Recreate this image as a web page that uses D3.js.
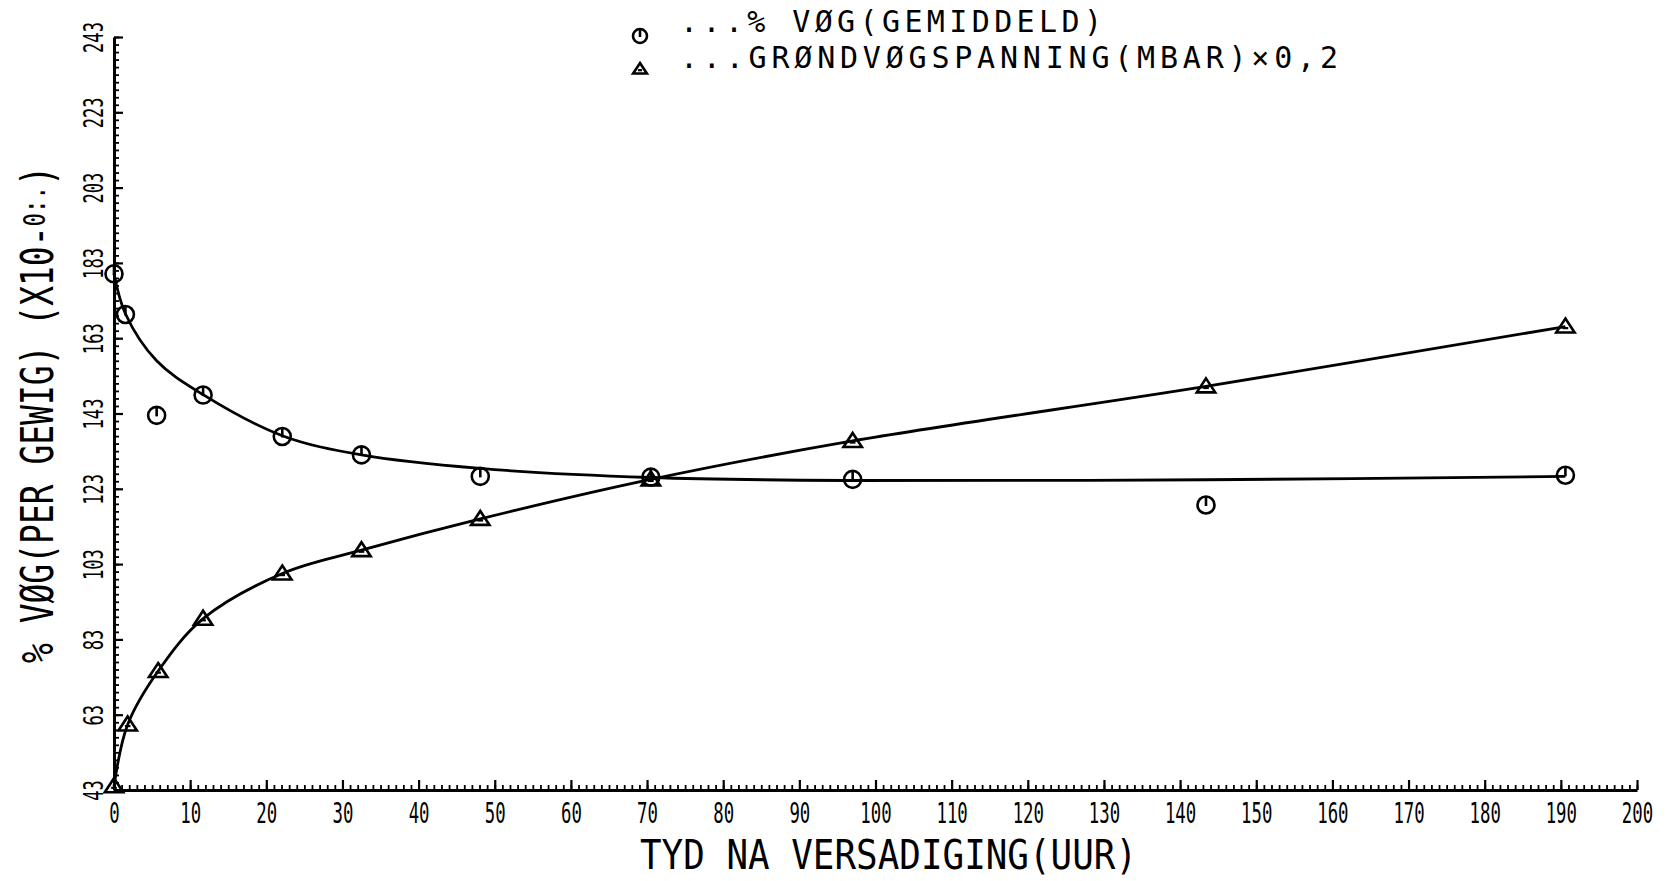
<!doctype html>
<html>
<head>
  <meta charset="utf-8">
  <title>Vog en grondvogspanning</title>
  <style>
    body { margin: 0; background: #fff; }
    svg { display: block; }
    text { font-family: "DejaVu Sans Mono", monospace; fill: #000; }
  </style>
</head>
<body>
<div class="graphContainer"></div>
<script src="https://cdn.jsdelivr.net/npm/d3@7"></script>
<script>
// tyd (uur) en gemete waardes
var vogTime    = [0, 1.5, 5.6, 11.7, 22.1, 32.5, 48.1, 70.5, 97.0, 143.4, 190.6];
var vogValues  = [180.1, 169.3, 142.5, 147.9, 136.9, 132.0, 126.3, 126.1, 125.5, 118.7, 126.6];
// gepaste kromme vir % vog (gelees van die prent)
var vogFitTime   = [0, 1.5, 5.6, 11.7, 22.1, 32.5, 48.1, 70.5, 97.0, 143.4, 190.6];
var vogFitValues = [180.1, 169.5, 157.0, 148.0, 137.1, 132.0, 128.4, 126.0, 125.2, 125.4, 126.3];
// grondvogspanning (mbar) x 0.2
var spanTime   = [0, 1.8, 5.8, 11.7, 22.1, 32.5, 48.1, 70.5, 97.0, 143.4, 190.6];
var spanValues = [44, 60.4, 74.6, 88.5, 100.5, 106.7, 115.0, 125.5, 135.7, 150.2, 166.1];

var xTicks = d3.range(0, 201, 10);
var yTicks = d3.range(43, 244, 20);
var xMinor = d3.range(0, 201, 1);
var yMinor = d3.range(43, 244, 2);

var legendLabels = ["...% V\u00D8G(GEMIDDELD)", "...GR\u00D8NDV\u00D8GSPANNING(MBAR)\u00D70,2"];

function drawChart() {
    var w = 1678, h = 881;

    var svg = d3.select(".graphContainer")
        .append("svg")
        .attr("width", w)
        .attr("height", h);

    var x = d3.scaleLinear().domain([0, 200]).range([114, 1637]);
    var y = d3.scaleLinear().domain([43, 243]).range([790, 37]);

    // x-as: klein merke
    svg.append("g")
        .attr("transform", `translate(0,${y(43)})`)
        .call(d3.axisBottom(x).tickValues(xMinor).tickSize(-5).tickFormat(""))
        .call(g => g.select(".domain").remove())
        .selectAll("line").attr("stroke-width", 1.8);

    var gx = svg.append("g")
        .attr("transform", `translate(0,${y(43)})`)
        .attr("font-family", null).attr("font-size", null)
        .call(d3.axisBottom(x).tickValues(xTicks).tickSize(-10).tickSizeOuter(0));
    gx.select(".domain").attr("stroke-width", 3);
    gx.selectAll("line").attr("stroke-width", 2.2);
    gx.selectAll("text")
        .attr("y", null).attr("dy", null)
        .attr("transform", "translate(0,33) scale(0.62,1)")
        .style("font-size", "28px");

    // y-as
    svg.append("g")
        .attr("transform", `translate(${x(0)},0)`)
        .call(d3.axisLeft(y).tickValues(yMinor).tickSize(-5).tickFormat(""))
        .call(g => g.select(".domain").remove())
        .selectAll("line").attr("stroke-width", 1.8);

    var gy = svg.append("g")
        .attr("transform", `translate(${x(0)},0)`)
        .attr("font-family", null).attr("font-size", null)
        .call(d3.axisLeft(y).tickValues(yTicks).tickSize(-9).tickSizeOuter(0));
    gy.select(".domain").attr("stroke-width", 3);
    gy.selectAll("line").attr("stroke-width", 2.2);
    gy.selectAll("text")
        .attr("x", null).attr("dy", null)
        .attr("text-anchor", "middle")
        .attr("transform", "translate(-11,0) rotate(-90) scale(0.66,1)")
        .style("font-size", "26px");

    // krommes
    var line = d3.line()
        .x(d => x(d[0]))
        .y(d => y(d[1]))
        .curve(d3.curveCatmullRom.alpha(0.5));

    svg.append("path")
        .datum(d3.zip(vogFitTime, vogFitValues))
        .attr("d", line)
        .attr("fill", "none").attr("stroke", "#000").attr("stroke-width", 2.8);

    svg.append("path")
        .datum(d3.zip(spanTime, spanValues))
        .attr("d", line)
        .attr("fill", "none").attr("stroke", "#000").attr("stroke-width", 2.8);

    // merkers
    function circleMark(g, r) {
        g.append("circle").attr("r", r)
            .attr("fill", "none").attr("stroke", "#000").attr("stroke-width", 2.6);
        g.append("line").attr("x1", 0).attr("x2", 0).attr("y1", -r).attr("y2", 1)
            .attr("stroke", "#000").attr("stroke-width", 2.6);
    }
    function triMark(g, s) {
        g.append("path")
            .attr("d", `M0,${-s}L${s * 1.15},${s * 0.75}L${-s * 1.15},${s * 0.75}Z`)
            .attr("fill", "none").attr("stroke", "#000").attr("stroke-width", 2.6);
        g.append("line").attr("x1", -s * 0.35).attr("x2", s * 0.35)
            .attr("y1", s * 0.2).attr("y2", s * 0.2)
            .attr("stroke", "#000").attr("stroke-width", 2.2);
    }

    svg.append("g").selectAll("g")
        .data(d3.zip(vogTime, vogValues))
        .join("g")
        .attr("transform", d => `translate(${x(d[0])},${y(d[1])})`)
        .each(function() { circleMark(d3.select(this), 8.5); });

    svg.append("g").selectAll("g")
        .data(d3.zip(spanTime, spanValues))
        .join("g")
        .attr("transform", d => `translate(${x(d[0])},${y(d[1])})`)
        .each(function() { triMark(d3.select(this), 8); });

    // as-titels
    svg.append("text")
        .attr("x", 640).attr("y", 869)
        .attr("textLength", 497).attr("lengthAdjust", "spacingAndGlyphs")
        .style("font-size", "41px")
        .text("TYD NA VERSADIGING(UUR)");

    var yt = svg.append("text")
        .attr("transform", "translate(53,663) rotate(-90)")
        .attr("textLength", 497).attr("lengthAdjust", "spacingAndGlyphs")
        .style("font-size", "44px");
    yt.append("tspan").text("% V\u00D8G(PER GEWIG) (X10-");
    yt.append("tspan").attr("dy", -8).style("font-size", "30px").text("0:.");
    yt.append("tspan").attr("dy", 8).text(")");

    // legende
    var leg = svg.append("g");
    var legY = [32, 68];
    var legLen = [422, 658];
    legendLabels.forEach(function(lbl, i) {
        leg.append("text")
            .attr("x", 680).attr("y", legY[i])
            .attr("textLength", legLen[i]).attr("lengthAdjust", "spacing")
            .style("font-size", "30px")
            .text(lbl);
    });
    circleMark(leg.append("g").attr("transform", "translate(640,36)"), 7);
    triMark(leg.append("g").attr("transform", "translate(640,69)"), 6);
}

drawChart();
</script>
</body>
</html>
